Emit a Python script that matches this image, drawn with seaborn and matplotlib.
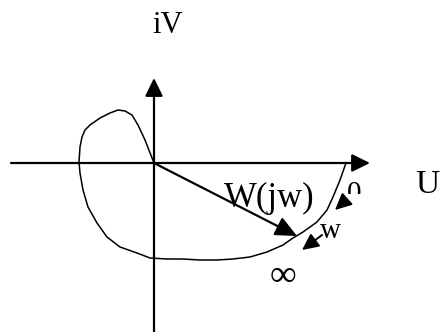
import matplotlib
matplotlib.use("Agg")
import matplotlib.pyplot as plt
import pandas as pd
import seaborn as sns
from matplotlib.transforms import Bbox, TransformedBbox

# hodograph W(jw), traced from w = 0 (on the U axis) to w = inf (origin)
curve_u = [192, 186, 179, 173, 163, 149, 139, 129, 113, 96, 79, 63, 46, 29,
           13, -4, -17, -34, -47, -57, -66, -71, -74, -75, -74, -72, -69, -64,
           -54, -44, -36, -29, -22, -16, -9, 0]
curve_v = [0, -17, -34, -47, -59, -69, -75, -82, -89, -94, -96, -97, -97, -96,
           -96, -95, -90, -84, -74, -60, -44, -27, -10, 1, 16, 26, 33, 38,
           45, 50, 53, 52, 48, 38, 23, 0]

# axes (start -> tip)
u_axis = [(-143, 0), (216, 0)]
v_axis = [(0, -169), (0, 85)]
# vector W(jw) to a point on the curve
vec_tip = (143, -73)
# small arrows showing direction of growing w
w_arrows = [((192, -37), (181, -47)), ((168, -72), (148, -87))]

labels = ["iV", "U", "W(jw)", "w", "\u221e", "0"]
label_pos = [(14, 130), (273, -30), (115, -44), (176, -75), (129, -123), (200, -38)]
label_size = [22, 24, 25, 21, 27, 21]

df = pd.DataFrame({"U": curve_u, "V": curve_v})

sns.set_theme(style="white")
plt.rcParams["font.family"] = ["Liberation Serif", "DejaVu Serif"]

fig = plt.figure(figsize=(4.41, 3.32), dpi=100)
ax = fig.add_axes([0, 0, 1, 1])
sns.lineplot(data=df, x="U", y="V", sort=False, estimator=None,
             color="black", lw=1.1, ax=ax)


def arrow(start, tip, lw, hl, hw):
    ax.annotate("", xy=tip, xytext=start,
                arrowprops=dict(arrowstyle=f"-|>,head_length={hl},head_width={hw}",
                                color="black", lw=lw, mutation_scale=20,
                                shrinkA=0, shrinkB=0))


arrow(u_axis[0], u_axis[1], 1.6, 0.55, 0.27)
arrow(v_axis[0], v_axis[1], 1.6, 0.55, 0.27)
arrow((0, 0), vec_tip, 1.6, 0.65, 0.3)
for s, t in w_arrows:
    arrow(s, t, 1.4, 0.5, 0.24)

for txt, (x, y), fs in zip(labels, label_pos, label_size):
    t = ax.text(x, y, txt, ha="center", va="baseline", fontsize=fs, color="black")
    if txt == "0":
        # the zero is partly hidden in the original drawing
        t.set_clip_box(TransformedBbox(Bbox([[188, -31], [214, -10]]), ax.transData))
        t.set_clip_on(True)

ax.set_xlim(-154, 287)
ax.set_ylim(-169, 163)
ax.axis("off")
fig.savefig("out.png", dpi=100)
